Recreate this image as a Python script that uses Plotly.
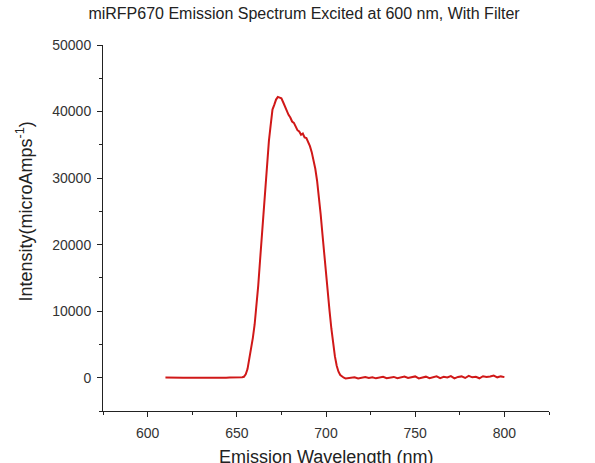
import plotly.graph_objects as go

# Emission wavelength (nm)
wavelength = (
    list(range(610, 652, 2))
    + list(range(652, 713, 1))
    + list(range(714, 801, 2))
)

# Intensity (microAmps^-1)
baseline_left = [20, -10, 30, 0, 10, -20, 15, 5, -5, 20, 0, -15, 10, 25, 0, -10, 15, 5, 20, 10, 30]
peak = [
    50, 90, 150, 500, 1300, 2700, 4300, 6000, 8000, 10600,   # 652-661
    13800, 17500, 21400, 25200, 29000, 32600, 35600, 38000, 40300, 41000,  # 662-671
    41800, 42200, 42100, 42000, 41400, 40800, 40000, 39500, 39100, 38500,  # 672-681
    38300, 37700, 37200, 37000, 36500, 36700, 36100, 36000, 35500, 34800,  # 682-691
    33900, 32800, 31400, 29600, 27300, 24600, 21600, 18400, 15400, 12600,  # 692-701
    10000, 7400, 5100, 3200, 1800, 900, 400, 150, 0, -100,                  # 702-711
    -80,                                                                     # 712
]
baseline_right = [
    -50, 60, -120, 40, 100, -30, 80, -90, 20, 150,
    -60, 30, 120, -80, 60, 180, -40, 90, 200, -100,
    50, 160, -70, 110, 220, -60, 140, 40, 250, -90,
    120, 200, -40, 280, 60, 150, -80, 230, 100, 180,
    320, 60, 200, 90,
]
intensity = baseline_left + peak + baseline_right

x_ticks = [600, 650, 700, 750, 800]
y_ticks = [0, 10000, 20000, 30000, 40000, 50000]

FONT = "Arial, Liberation Sans, sans-serif"

fig = go.Figure(
    go.Scatter(
        x=wavelength,
        y=intensity,
        mode="lines",
        line=dict(color="#d01818", width=2),
        showlegend=False,
    )
)

fig.update_layout(
    width=595,
    height=463,
    margin=dict(l=103, r=46, t=45, b=52),
    paper_bgcolor="white",
    plot_bgcolor="white",
    font=dict(family=FONT, color="#222222"),
    title=dict(
        text="miRFP670 Emission Spectrum Excited at 600 nm, With Filter",
        font=dict(family=FONT, size=16, color="#222222"),
        x=0.511, xref="container", xanchor="center",
        y=0.970, yref="container", yanchor="middle",
    ),
    annotations=[
        dict(
            text="Emission Wavelength (nm)",
            xref="paper", yref="paper", x=0.5, y=-0.127,
            xanchor="center", yanchor="middle", showarrow=False,
            font=dict(family=FONT, size=18, color="#222"),
        ),
        dict(
            text="Intensity(microAmps<sup>-1</sup>)",
            xref="paper", yref="paper", x=-0.175, y=0.545,
            xanchor="center", yanchor="middle", showarrow=False, textangle=-90,
            font=dict(family=FONT, size=18, color="#222"),
        ),
    ],
)

fig.update_xaxes(
    range=[575, 825],
    tickvals=x_ticks,
    ticktext=[str(v) for v in x_ticks],
    ticks="outside", ticklen=5, tickwidth=1, tickcolor="#222",
    minor=dict(dtick=25, tick0=575, ticks="outside", ticklen=3, tickwidth=1, tickcolor="#222"),
    showline=True, linecolor="#222", linewidth=1,
    showgrid=False, zeroline=False,
    ticklabelstandoff=4,
    tickfont=dict(family=FONT, size=14, color="#333"),
)

fig.update_yaxes(
    range=[-5000, 50000],
    tickvals=y_ticks,
    ticktext=[str(v) for v in y_ticks],
    ticks="outside", ticklen=5, tickwidth=1, tickcolor="#222",
    minor=dict(dtick=5000, tick0=-5000, ticks="outside", ticklen=3, tickwidth=1, tickcolor="#222"),
    showline=True, linecolor="#222", linewidth=1,
    showgrid=False, zeroline=False,
    ticklabelstandoff=3,
    tickfont=dict(family=FONT, size=14, color="#333"),
)

fig.write_html("out.html")
